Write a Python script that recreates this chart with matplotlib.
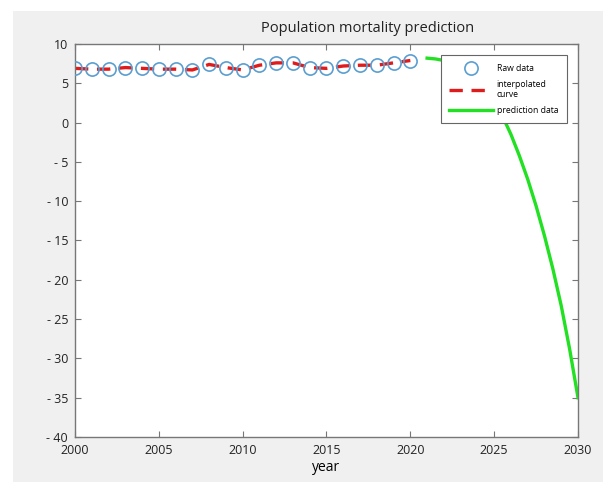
import numpy as np
import matplotlib.pyplot as plt
from matplotlib.patches import Rectangle

plt.rcParams['font.family'] = ['Open Sans', 'DejaVu Sans']

# raw mortality data (per thousand)
years = list(range(2000, 2021))
mortality = [6.9, 6.8, 6.8, 7.0, 6.9, 6.8, 6.8, 6.7, 7.4, 7.0, 6.7,
             7.3, 7.6, 7.6, 7.0, 6.9, 7.2, 7.3, 7.3, 7.6, 7.9]

# prediction curve
pred_years = [2021, 2021.5, 2022, 2022.5, 2023, 2023.5, 2024, 2024.5, 2025, 2025.5,
              2026, 2026.5, 2027, 2027.5, 2028, 2028.5, 2029, 2029.5, 2030]
pred_values = [8.2, 8.1, 7.9, 7.5, 7.0, 6.3, 5.4, 4.2, 2.7, 0.8,
               -1.5, -4.2, -7.2, -10.6, -14.4, -18.6, -23.3, -28.8, -35.0]

xticks = [2000, 2005, 2010, 2015, 2020, 2025, 2030]
yticks = [10, 5, 0, -5, -10, -15, -20, -25, -30, -35, -40]
ytick_labels = [str(v) if v >= 0 else '- %d' % -v for v in yticks]

fig = plt.figure(figsize=(6.03, 4.82), dpi=100)
fig.patch.set_facecolor('white')
# grey figure window behind the axes
fig.patches.append(Rectangle((13 / 603, 0), 1, 1 - 11 / 482, transform=fig.transFigure,
                             facecolor='#f0f0f0', edgecolor='none', zorder=-10))

ax = fig.add_axes([75 / 603, 1 - 437 / 482, 503 / 603, 393 / 482])
ax.set_facecolor('white')

ax.plot(years, mortality, 'o', markersize=9.5, markerfacecolor='none',
        markeredgecolor='#5a9fd0', markeredgewidth=1.2, label='Raw data', zorder=3)
ax.plot(years, mortality, color='#e01b1b', linewidth=2.4, linestyle=(0, (4, 2.6)),
        label='interpolated\ncurve', zorder=2)
ax.plot(pred_years, pred_values, color='#22e022', linewidth=2.4,
        label='prediction data', zorder=2)

ax.set_xlim(2000, 2030)
ax.set_ylim(-40, 10)
ax.set_xticks(xticks)
ax.set_xticklabels([str(t) for t in xticks], fontsize=9)
ax.set_yticks(yticks)
ax.set_yticklabels(ytick_labels, fontsize=9)
ax.tick_params(direction='in', top=True, right=True, length=4, color='#777777',
               labelcolor='#222222', pad=5)
for s in ax.spines.values():
    s.set_color('#777777')
    s.set_linewidth(1.0)

ax.set_xlabel('year', fontsize=10, labelpad=2)
fig.text(0.61, 1 - 28 / 482, 'Population mortality prediction', ha='center',
         va='center', fontsize=10.5, color='#222222')

leg = ax.legend(loc='upper right', bbox_to_anchor=(0.978, 0.972), fontsize=6.2,
                handlelength=5.0, frameon=True, fancybox=False, framealpha=1,
                borderpad=1.0, labelspacing=0.8, handletextpad=0.5,
                borderaxespad=0)
leg.get_frame().set_edgecolor('#666666')
leg.get_frame().set_linewidth(0.8)

fig.savefig('out.png', dpi=100)
